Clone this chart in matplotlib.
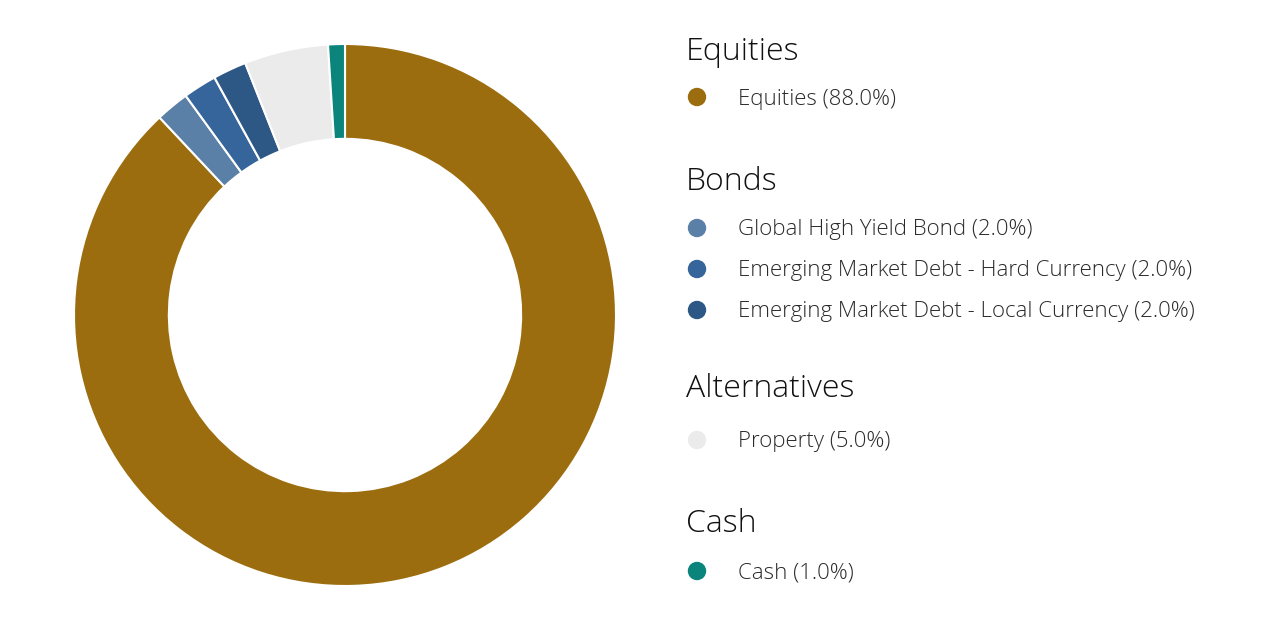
import matplotlib
matplotlib.use("Agg")
from matplotlib import pyplot as plt
from matplotlib.patches import Ellipse

# Data
labels = ["Equities", "Global High Yield Bond", "Emerging Market Debt - Hard Currency",
          "Emerging Market Debt - Local Currency", "Property", "Cash"]
values = [88.0, 2.0, 2.0, 2.0, 5.0, 1.0]
colors = ["#9c6d0e", "#5b80a8", "#35659a", "#2d5886", "#ebebeb", "#0b857b"]
groups = ["Equities", "Bonds", "Bonds", "Bonds", "Alternatives", "Cash"]

plt.rcParams["font.family"] = ["Open Sans", "DejaVu Sans"]

W, H = 1280, 618
fig = plt.figure(figsize=(W / 100, H / 100), dpi=100)

# donut
cx, cy, r = 345, 315, 271
ax = fig.add_axes([(cx - r) / W, (H - cy - r) / H, 2 * r / W, 2 * r / H])
ax.pie(values, colors=colors, startangle=90, counterclock=False, radius=1,
       wedgeprops=dict(width=0.35, edgecolor="white", linewidth=1.5))
ax.set_xlim(-1, 1)
ax.set_ylim(-1, 1)
ax.set_aspect("equal")
ax.axis("off")

# legend, grouped
heading_y = {"Equities": 52, "Bonds": 182, "Alternatives": 389, "Cash": 524}
item_y = [97, 228, 269, 310, 440, 571]


def fx(x):
    return x / W


def fy(y):
    return 1 - y / H


for g, y in heading_y.items():
    fig.text(fx(686), fy(y), g, fontsize=23, fontweight="light",
             color="#111111", va="center", ha="left")

for lab, val, col, y in zip(labels, values, colors, item_y):
    fig.patches.append(Ellipse((fx(697), fy(y)), 17 / W, 17 / H, color=col,
                               transform=fig.transFigure, figure=fig))
    fig.text(fx(738), fy(y + 2), f"{lab} ({val:.1f}%)", fontsize=16,
             fontweight="light", color="#2a2a2a", va="center", ha="left")

fig.savefig("out.png", dpi=100)
